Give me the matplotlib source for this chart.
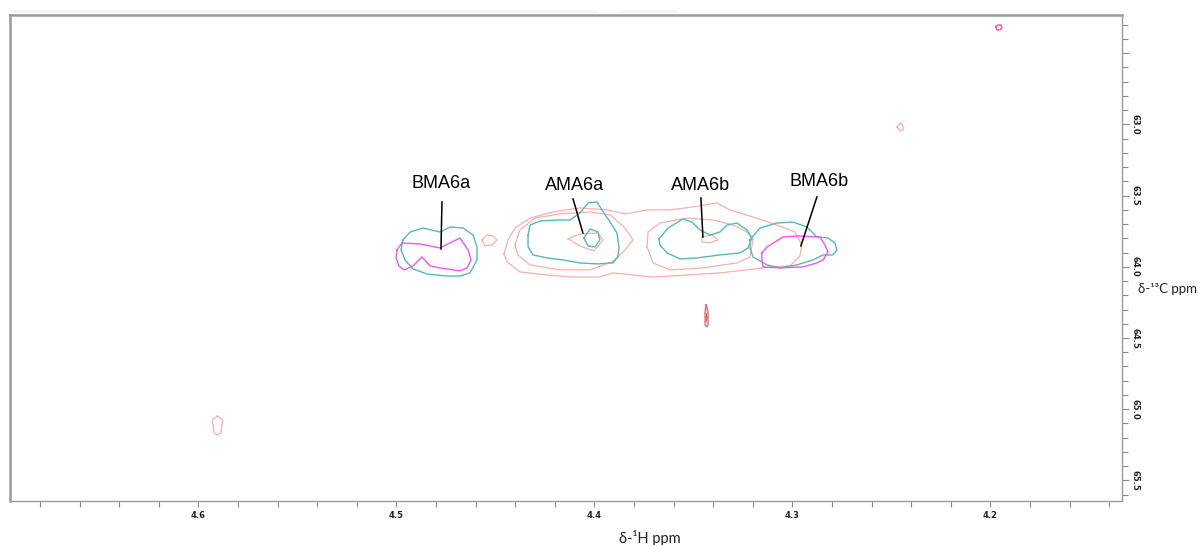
import numpy as np
import matplotlib
matplotlib.use("Agg")
import matplotlib.pyplot as plt
from matplotlib.ticker import MultipleLocator, FixedLocator, FixedFormatter
from matplotlib.lines import Line2D

# ---- contour outlines (1H ppm, 13C ppm) ----
# BMA6a
teal_bma6a_h = [4.4967, 4.4931, 4.4866, 4.4780, 4.4729, 4.4664, 4.4613, 4.4593,
                4.4593, 4.4628, 4.4679, 4.4744, 4.4845, 4.4916, 4.4957, 4.4977]
teal_bma6a_c = [63.812, 63.756, 63.728, 63.756, 63.721, 63.728, 63.777, 63.861,
                63.952, 64.043, 64.065, 64.065, 64.051, 64.015, 63.952, 63.882]
mag_bma6a_h = [4.4997, 4.4972, 4.4881, 4.4780, 4.4679, 4.4638, 4.4623, 4.4643,
               4.4679, 4.4780, 4.4830, 4.4871, 4.4916, 4.4962, 4.4987, 4.5002]
mag_bma6a_c = [63.882, 63.833, 63.840, 63.868, 63.798, 63.882, 63.952, 64.008,
               64.029, 64.008, 63.994, 63.931, 63.994, 64.022, 63.994, 63.938]
salmon_small_h = [4.4568, 4.4542, 4.4512, 4.4492, 4.4517, 4.4553]
salmon_small_c = [63.812, 63.777, 63.784, 63.812, 63.847, 63.854]

# AMA6a
teal_ama6a_h = [4.4335, 4.4325, 4.4275, 4.4189, 4.4123, 4.4073, 4.4032, 4.3987,
                4.3962, 4.3921, 4.3886, 4.3876, 4.3881, 4.3906, 4.3987, 4.4073,
                4.4159, 4.4239, 4.4310, 4.4335]
teal_ama6a_c = [63.777, 63.707, 63.679, 63.672, 63.672, 63.622, 63.552, 63.545,
                63.601, 63.686, 63.763, 63.861, 63.931, 63.973, 63.980, 63.973,
                63.952, 63.938, 63.917, 63.861]
teal_ama6a_in_h = [4.4053, 4.4022, 4.3982, 4.3972, 4.3997, 4.4032]
teal_ama6a_in_c = [63.798, 63.735, 63.756, 63.812, 63.861, 63.854]
salmon_ama6a_h = [4.4401, 4.4376, 4.4300, 4.4174, 4.4022, 4.3921, 4.3845, 4.3805,
                  4.3845, 4.3911, 4.4022, 4.4174, 4.4325, 4.4386]
salmon_ama6a_c = [63.847, 63.742, 63.658, 63.629, 63.615, 63.636, 63.728, 63.812,
                  63.882, 63.966, 64.022, 64.022, 63.987, 63.917]
salmon_ama6a_in_h = [4.4133, 4.4073, 4.3982, 4.3956, 4.4002, 4.4073]
salmon_ama6a_in_c = [63.805, 63.770, 63.763, 63.812, 63.889, 63.854]

# AMA6b
teal_ama6b_h = [4.3674, 4.3628, 4.3553, 4.3507, 4.3467, 4.3416, 4.3366, 4.3330,
                4.3280, 4.3229, 4.3204, 4.3224, 4.3265, 4.3366, 4.3482, 4.3568,
                4.3633, 4.3669]
teal_ama6b_c = [63.805, 63.728, 63.665, 63.686, 63.742, 63.777, 63.756, 63.707,
                63.693, 63.742, 63.798, 63.868, 63.903, 63.917, 63.938, 63.945,
                63.903, 63.847]
salmon_ama6b_h = [4.3734, 4.3729, 4.3669, 4.3532, 4.3401, 4.3300, 4.3229, 4.3199,
                  4.3214, 4.3280, 4.3452, 4.3618, 4.3704]
salmon_ama6b_c = [63.861, 63.756, 63.693, 63.658, 63.672, 63.707, 63.756, 63.812,
                  63.931, 63.973, 64.008, 64.022, 63.973]
salmon_ama6b_in_h = [4.3457, 4.3406, 4.3376, 4.3416, 4.3457]
salmon_ama6b_in_c = [63.791, 63.777, 63.812, 63.833, 63.826]

# lowest salmon level enclosing AMA6a / AMA6b
salmon_outer_h = [4.4457, 4.4436, 4.4401, 4.4325, 4.4209, 4.4073, 4.3936, 4.3845,
                  4.3734, 4.3618, 4.3502, 4.3381, 4.3315, 4.3199, 4.3078, 4.2987,
                  4.2952, 4.2962, 4.3012, 4.3113, 4.3229, 4.3366, 4.3532, 4.3704,
                  4.3805, 4.3906, 4.3972, 4.4108, 4.4239, 4.4376, 4.4441]
salmon_outer_c = [63.910, 63.812, 63.728, 63.658, 63.615, 63.587, 63.601, 63.629,
                  63.601, 63.601, 63.580, 63.552, 63.601, 63.651, 63.707, 63.756,
                  63.847, 63.924, 63.994, 64.001, 64.022, 64.043, 64.058, 64.072,
                  64.058, 64.043, 64.072, 64.072, 64.058, 64.036, 63.966]

# BMA6b
teal_bma6b_h = [4.3214, 4.3164, 4.3078, 4.2997, 4.2926, 4.2876, 4.2820, 4.2785,
                4.2775, 4.2795, 4.2845, 4.2896, 4.2977, 4.3063, 4.3128, 4.3199, 4.3214]
teal_bma6b_c = [63.812, 63.728, 63.693, 63.686, 63.721, 63.791, 63.798, 63.833,
                63.882, 63.917, 63.917, 63.952, 63.987, 64.008, 63.987, 63.931, 63.868]
mag_bma6b_h = [4.3154, 4.3128, 4.3047, 4.2977, 4.2861, 4.2835, 4.2820, 4.2845,
               4.2876, 4.2946, 4.3063, 4.3148, 4.3154]
mag_bma6b_c = [63.903, 63.861, 63.791, 63.784, 63.791, 63.847, 63.896, 63.952,
               63.973, 64.001, 64.008, 64.001, 63.952]

# isolated weak cross peaks
pink_top_h = [4.1972, 4.1962, 4.1946, 4.1941, 4.1951, 4.1967]
pink_top_c = [62.317, 62.303, 62.303, 62.324, 62.338, 62.338]
salmon_top_h = [4.2472, 4.2452, 4.2441, 4.2441, 4.2456]
salmon_top_c = [63.019, 62.991, 63.012, 63.040, 63.047]
red_peak_h = [4.3436, 4.3426, 4.3426, 4.3431, 4.3441, 4.3441]
red_peak_c = [64.268, 64.317, 64.408, 64.422, 64.408, 64.317]
red_peak_in_h = [4.3434, 4.3431, 4.3434, 4.3437]
red_peak_in_c = [64.331, 64.359, 64.387, 64.359]
salmon_left_h = [4.5904, 4.5878, 4.5886, 4.5904, 4.5921, 4.5929]
salmon_left_c = [65.047, 65.075, 65.166, 65.180, 65.166, 65.075]

# peak labels with leader lines
label_names = ["BMA6a", "AMA6a", "AMA6b", "BMA6b"]
label_h = [4.4775, 4.4098, 4.3462, 4.2866]
label_c = [63.419, 63.433, 63.433, 63.405]
leader_h0 = [4.4770, 4.4108, 4.3462, 4.2876]
leader_c0 = [63.545, 63.524, 63.517, 63.510]
leader_h1 = [4.4775, 4.4058, 4.3452, 4.2957]
leader_c1 = [63.875, 63.763, 63.791, 63.854]

x_major = [4.6, 4.5, 4.4, 4.3, 4.2]
y_major = [62.5, 63.0, 63.5, 64.0, 64.5, 65.0, 65.5]
y_labels = ["", "63.0", "63.5", "64.0", "64.5", "65.0", "65.5"]

TEAL = "#55bab4"
MAGENTA = "#f552f5"
SALMON = "#f7b0aa"
RED = "#e8696b"
PINK = "#f2559e"

W, H = 1198, 545
fig = plt.figure(figsize=(W / 100, H / 100), dpi=100)
ax = fig.add_axes([10 / W, 1 - 501 / H, 1112 / W, 486 / H])


def outline(h, c, color, lw=1.0):
    hh = list(h) + [h[0]]
    cc = list(c) + [c[0]]
    ax.plot(hh, cc, color=color, lw=lw, solid_joinstyle="round")


outline(salmon_outer_h, salmon_outer_c, SALMON, 0.9)
outline(salmon_ama6a_h, salmon_ama6a_c, SALMON, 0.9)
outline(salmon_ama6a_in_h, salmon_ama6a_in_c, SALMON, 0.9)
outline(salmon_ama6b_h, salmon_ama6b_c, SALMON, 0.9)
outline(salmon_ama6b_in_h, salmon_ama6b_in_c, SALMON, 0.9)
outline(salmon_small_h, salmon_small_c, SALMON, 0.9)
outline(salmon_top_h, salmon_top_c, SALMON, 0.9)
outline(salmon_left_h, salmon_left_c, SALMON, 0.9)
outline(red_peak_h, red_peak_c, RED)
outline(red_peak_in_h, red_peak_in_c, RED, lw=0.8)
outline(pink_top_h, pink_top_c, PINK)

outline(teal_bma6a_h, teal_bma6a_c, TEAL)
outline(teal_ama6a_h, teal_ama6a_c, TEAL)
outline(teal_ama6a_in_h, teal_ama6a_in_c, TEAL)
outline(teal_ama6b_h, teal_ama6b_c, TEAL)
outline(teal_bma6b_h, teal_bma6b_c, TEAL)

outline(mag_bma6a_h, mag_bma6a_c, MAGENTA)
outline(mag_bma6b_h, mag_bma6b_c, MAGENTA)

for name, lh, lc, h0, c0, h1, c1 in zip(label_names, label_h, label_c,
                                         leader_h0, leader_c0, leader_h1, leader_c1):
    ax.text(lh, lc, name, ha="center", va="center", fontsize=13,
            family="Liberation Sans", color="black")
    ax.plot([h0, h1], [c0, c1], color="black", lw=1.1)

ax.set_xlim(4.6952, 4.1335)
ax.set_ylim(65.644, 62.233)

# axis frame and ticks
for s in ax.spines.values():
    s.set_color("#9a9a9a")
    s.set_linewidth(1.0)
ax.spines["top"].set_linewidth(1.8)
ax.spines["left"].set_linewidth(1.8)

ax.xaxis.set_major_locator(FixedLocator(x_major))
ax.xaxis.set_minor_locator(MultipleLocator(0.02))
ax.xaxis.set_major_formatter(FixedFormatter([f"{v:.1f}" for v in x_major]))
ax.tick_params(axis="x", which="both", direction="out", bottom=True, top=False,
               length=4, width=0.8, color="#8a8a8a", pad=3,
               labelsize=6, labelcolor="#222222")
for t in ax.get_xticklabels():
    t.set_fontweight("bold")

ax.yaxis.tick_right()
ax.yaxis.set_major_locator(FixedLocator(y_major))
ax.yaxis.set_minor_locator(MultipleLocator(0.1))
ax.yaxis.set_major_formatter(FixedFormatter(y_labels))
ax.tick_params(axis="y", which="major", direction="out", right=True, left=False,
               length=5, width=0.8, color="#8a8a8a", pad=1,
               labelsize=6, labelcolor="#222222", labelrotation=270)
ax.tick_params(axis="y", which="minor", direction="out", right=True, left=False,
               length=4, width=0.8, color="#8a8a8a")
for t in ax.get_yticklabels():
    t.set_fontweight("bold")
    t.set_va("center")

fig.text(650 / W, 1 - 538 / H, "δ-¹H ppm", ha="center", va="center",
         fontsize=10.5, family="Lato", color="#222222")
fig.text(1138 / W, 1 - 289 / H, "δ-¹³C ppm", ha="left", va="center",
         fontsize=9.5, family="Lato", color="#222222")

# faint rule above the frame
fig.add_artist(Line2D([11 / W, 596 / W], [1 - 11 / H, 1 - 11 / H],
                      color="#efecf8", lw=1.0))
fig.add_artist(Line2D([620 / W, 677 / W], [1 - 11 / H, 1 - 11 / H],
                      color="#efecf8", lw=1.0))

fig.savefig("out.png", dpi=100)
